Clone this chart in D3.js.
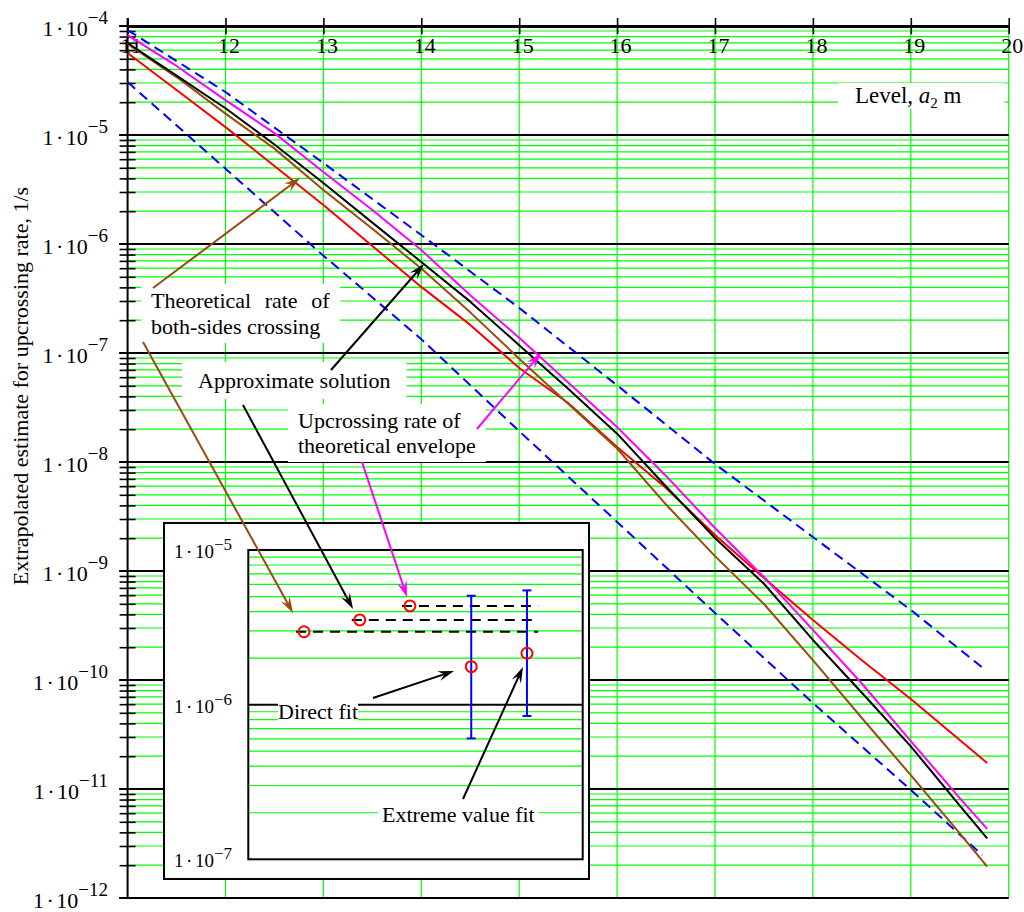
<!DOCTYPE html>
<html>
<head>
<meta charset="utf-8">
<script src="https://cdn.jsdelivr.net/npm/d3@7"></script>
<style>
  body { margin: 0; background: #fff; }
  svg { display: block; }
  text { font-family: "Liberation Serif", "Times New Roman", serif; fill: #000; }
</style>
</head>
<body>
<svg id="chart" width="1024" height="912"></svg>
<script>
// ---- data -------------------------------------------------------------
const levelTicks = [11, 12, 13, 14, 15, 16, 17, 18, 19, 20];
const rateExponents = [-4, -5, -6, -7, -8, -9, -10, -11, -12];

// levels (m) at which the rate curves are sampled
const levels = [11, 11.5, 12, 12.5, 13, 13.5, 14, 14.5, 15, 15.5, 16, 16.5, 17, 17.5, 18, 18.5, 19, 19.5, 19.78];
// extrapolated estimate (red)
const extrapolatedRate = [5.65e-5, 2.59e-5, 1.18e-5, 5.20e-6, 2.28e-6, 9.59e-7, 4.04e-7, 1.81e-7, 7.28e-8, 3.48e-8,
  1.37e-8, 5.77e-9, 2.14e-9, 8.63e-10, 3.55e-10, 1.52e-10, 6.70e-11, 2.82e-11, 1.73e-11];
// theoretical rate of both-sides crossing (brown)
const bothSidesRate = [6.84e-5, 3.40e-5, 1.57e-5, 7.50e-6, 3.13e-6, 1.38e-6, 5.96e-7, 2.36e-7, 8.87e-8, 3.42e-8,
  1.33e-8, 4.07e-9, 1.37e-9, 4.98e-10, 1.52e-10, 4.48e-11, 1.34e-11, 3.92e-12, 1.94e-12];
// approximate solution (black)
const approxRate = [6.98e-5, 3.51e-5, 1.76e-5, 8.18e-6, 3.63e-6, 1.57e-6, 6.84e-7, 2.96e-7, 1.18e-7, 4.71e-8,
  1.82e-8, 5.96e-9, 2.01e-9, 7.64e-10, 2.33e-10, 7.64e-11, 2.46e-11, 7.05e-12, 3.53e-12];
// upcrossing rate of theoretical envelope (magenta)
const envelopeRate = [8.26e-5, 4.30e-5, 2.09e-5, 1.04e-5, 4.58e-6, 2.05e-6, 8.81e-7, 3.38e-7, 1.38e-7, 5.35e-8,
  2.09e-8, 7.45e-9, 2.48e-9, 8.81e-10, 2.88e-10, 9.29e-11, 2.75e-11, 8.26e-12, 4.30e-12];

// confidence band (blue dashed)
const upperLevels = [11, 12, 13, 14, 15, 16, 17, 18, 19, 19.75];
const upperBound = [9.18e-5, 2.48e-5, 5.53e-6, 1.21e-6, 2.59e-7, 5.05e-8, 9.59e-9, 2.05e-9, 4.39e-10, 1.26e-10];
const lowerLevels = [11, 12, 13, 14, 15, 16, 17, 18, 19, 19.73];
const lowerBound = [3.06e-5, 4.91e-6, 7.82e-7, 1.34e-7, 1.92e-8, 2.82e-9, 4.12e-10, 6.15e-11, 9.79e-12, 2.48e-12];

// inset: estimates at a single level
const insetExponents = [-5, -6, -7];
const insetTheoryPos = [1, 2, 2.9];                 // both-sides, approximate, envelope
const insetTheoryRate = [2.96e-6, 3.53e-6, 4.35e-6];
const insetTheoryEnd = 5.2;
const insetFitPos = [4, 5];                         // direct fit, extreme value fit
const insetFitRate = [1.76e-6, 2.15e-6];
const insetFitLow = [6.05e-7, 8.45e-7];
const insetFitHigh = [5.06e-6, 5.48e-6];

// ---- setup ------------------------------------------------------------
const GREEN = "#00ff00", BROWN = "#9a4a0e", MAGENTA = "#ff00ff", RED = "#ff0000", BLUE = "#0000ff";
const svg = d3.select("#chart");

const x = d3.scaleLinear().domain([11, 20]).range([127.6, 1008.7]);
const y = d3.scaleLog().domain([1e-12, 1e-4]).range([898, 26]);

const minorValues = [];
for (let e = -12; e < -4; e++) for (let k = 2; k <= 9; k++) minorValues.push(+(k * Math.pow(10, e)).toPrecision(3));
const decadeValues = rateExponents.map(e => Math.pow(10, e));

const gridLayer = svg.append("g");
const bgLayer = svg.append("g");
const curveLayer = svg.append("g");
const insetLayer = svg.append("g");
const noteLayer = svg.append("g");

// ---- grid -------------------------------------------------------------
gridLayer.selectAll(".hminor").data(minorValues).join("line")
  .attr("x1", x(11)).attr("x2", x(20))
  .attr("y1", d => y(d)).attr("y2", d => y(d))
  .attr("stroke", GREEN).attr("stroke-width", 1.2);
gridLayer.selectAll(".vgrid").data(levelTicks.slice(1)).join("line")
  .attr("x1", d => x(d)).attr("x2", d => x(d))
  .attr("y1", y(1e-4)).attr("y2", y(1e-12))
  .attr("stroke", GREEN).attr("stroke-width", 1.2);
gridLayer.selectAll(".hmajor").data(decadeValues).join("line")
  .attr("x1", x(11) - 8.5).attr("x2", x(20))
  .attr("y1", d => y(d)).attr("y2", d => y(d))
  .attr("stroke", "#000").attr("stroke-width", 2);

// left axis with minor ticks on both sides
const leftOut = gridLayer.append("g").attr("transform", `translate(${x(11)},0)`)
  .call(d3.axisLeft(y).tickValues(minorValues).tickSize(8).tickFormat(""));
const leftIn = gridLayer.append("g").attr("transform", `translate(${x(11)},0)`)
  .call(d3.axisRight(y).tickValues(minorValues).tickSize(8).tickFormat(""));
[leftOut, leftIn].forEach(g => {
  g.select(".domain").remove();
  g.selectAll(".tick line").attr("stroke", "#000").attr("stroke-width", 1.6);
});
gridLayer.append("line").attr("x1", x(11)).attr("x2", x(11)).attr("y1", 18).attr("y2", y(1e-12))
  .attr("stroke", "#000").attr("stroke-width", 2);

// top axis: ticks up and down, labels below
const topUp = gridLayer.append("g").attr("transform", `translate(0,${y(1e-4)})`)
  .call(d3.axisTop(x).tickValues(levelTicks).tickSize(8).tickSizeOuter(0).tickFormat(""));
const topDown = gridLayer.append("g").attr("transform", `translate(0,${y(1e-4)})`)
  .call(d3.axisBottom(x).tickValues(levelTicks).tickSize(8).tickSizeOuter(0).tickPadding(3.5).tickFormat(d3.format("d")));
[topUp, topDown].forEach(g => {
  g.select(".domain").attr("stroke", "#000").attr("stroke-width", 2.4);
  g.selectAll(".tick line").attr("stroke", "#000").attr("stroke-width", 1.6);
});
topDown.selectAll(".tick text")
  .attr("dx", 3).attr("fill", "#000")
  .style("font-family", '"Liberation Serif", serif').style("font-size", "22px");

// y tick labels 1·10^n
function powerLabel(sel, size, supSize, rise) {
  sel.append("tspan").text("1");
  sel.append("tspan").attr("dx", 2.5).text("·");
  sel.append("tspan").attr("dx", 2.5).text("10");
  sel.append("tspan").attr("dy", -rise).style("font-size", supSize + "px").text(d => "\u2212" + Math.abs(d));
}
const yLabels = gridLayer.selectAll(".ylab").data(rateExponents).join("text")
  .attr("x", 108).attr("y", d => y(Math.pow(10, d)) + 10)
  .attr("text-anchor", "end").style("font-size", "22px");
powerLabel(yLabels, 22, 19, 12);

// axis titles
gridLayer.append("text")
  .attr("transform", `translate(28,386) rotate(-90)`)
  .attr("text-anchor", "middle").style("font-size", "22px")
  .text("Extrapolated estimate for upcrossing rate, 1/s");

// ---- curves -----------------------------------------------------------
const line = d3.line().x(d => x(d[0])).y(d => y(d[1]));
const series = (xs, ys) => xs.map((v, i) => [v, ys[i]]);

curveLayer.append("path").attr("d", line(series(upperLevels, upperBound)))
  .attr("fill", "none").attr("stroke", BLUE).attr("stroke-width", 2).attr("stroke-dasharray", "10,6");
curveLayer.append("path").attr("d", line(series(lowerLevels, lowerBound)))
  .attr("fill", "none").attr("stroke", BLUE).attr("stroke-width", 2).attr("stroke-dasharray", "10,6");
[[extrapolatedRate, RED], [bothSidesRate, BROWN], [approxRate, "#000"], [envelopeRate, MAGENTA]].forEach(([vals, c]) => {
  curveLayer.append("path").attr("d", line(series(levels, vals)))
    .attr("fill", "none").attr("stroke", c).attr("stroke-width", 2).attr("stroke-linejoin", "round");
});

// ---- helpers ----------------------------------------------------------
function arrow(g, x1, y1, x2, y2, color) {
  const a = Math.atan2(y2 - y1, x2 - x1), c = Math.cos(a), s = Math.sin(a);
  const L = 16, W = 5, N = 10;
  g.append("line").attr("x1", x1).attr("y1", y1).attr("x2", x2 - N * c).attr("y2", y2 - N * s)
    .attr("stroke", color).attr("stroke-width", 2);
  const pts = [[x2, y2], [x2 - L * c + W * s, y2 - L * s - W * c], [x2 - N * c, y2 - N * s], [x2 - L * c - W * s, y2 - L * s + W * c]];
  g.append("polygon").attr("points", pts.map(p => p.join(",")).join(" ")).attr("fill", color);
}
function label(g, bg, lines, x0, y0, lh, opts = {}) {
  const t = g.append("text").attr("x", x0).attr("y", y0).style("font-size", (opts.size || 22) + "px");
  lines.forEach((l, i) => {
    const ts = t.append("tspan").attr("x", x0).attr("y", y0 + i * lh).text(l);
    if (opts.wordSpacing && opts.wordSpacing[i]) ts.style("word-spacing", opts.wordSpacing[i] + "px");
  });
  const b = t.node().getBBox();
  const px = opts.padX ?? 8, py = opts.padY ?? 3;
  bg.append("rect").attr("x", b.x - px).attr("y", b.y - py)
    .attr("width", b.width + 2 * px).attr("height", b.height + 2 * py).attr("fill", "#fff");
  return t;
}

// level axis title with white backing
{
  const t = noteLayer.append("text").attr("x", 855).attr("y", 103).style("font-size", "23px");
  t.append("tspan").text("Level, ");
  t.append("tspan").style("font-style", "italic").text("a");
  t.append("tspan").attr("dy", 5).style("font-size", "15px").text("2");
  t.append("tspan").attr("dy", -5).text(" m");
  bgLayer.append("rect").attr("x", 838).attr("y", 83).attr("width", 167).attr("height", 26).attr("fill", "#fff");
}

// ---- inset ------------------------------------------------------------
const ix = d3.scaleLinear().domain([0, 6]).range([248.3, 582.7]);
const iy = d3.scaleLog().domain([1e-7, 1e-5]).range([859.3, 550]);
insetLayer.append("rect").attr("x", 164).attr("y", 523).attr("width", 425).attr("height", 356)
  .attr("fill", "#fff").attr("stroke", "#000").attr("stroke-width", 2);
const insetGrid = insetLayer.append("g");
const insetBg = insetLayer.append("g");
const insetMarks = insetLayer.append("g");
const insetMinor = [];
for (let e = -7; e < -5; e++) for (let k = 2; k <= 9; k++) insetMinor.push(+(k * Math.pow(10, e)).toPrecision(3));
insetGrid.selectAll("line.m").data(insetMinor).join("line")
  .attr("x1", ix(0)).attr("x2", ix(6)).attr("y1", d => iy(d)).attr("y2", d => iy(d))
  .attr("stroke", GREEN).attr("stroke-width", 1.2);
insetGrid.append("line").attr("x1", ix(0)).attr("x2", ix(6)).attr("y1", iy(1e-6)).attr("y2", iy(1e-6))
  .attr("stroke", "#000").attr("stroke-width", 2);
insetMarks.append("rect").attr("x", ix(0)).attr("y", iy(1e-5)).attr("width", ix(6) - ix(0)).attr("height", iy(1e-7) - iy(1e-5))
  .attr("fill", "none").attr("stroke", "#000").attr("stroke-width", 2);
const iLabels = insetMarks.selectAll(".ilab").data(insetExponents).join("text")
  .attr("x", 232).attr("y", d => iy(Math.pow(10, d)) + 8).attr("text-anchor", "end").style("font-size", "19px");
powerLabel(iLabels, 19, 17, 8);

// theoretical levels as dashed reference lines
insetTheoryPos.forEach((p, i) => {
  insetMarks.append("line").attr("x1", ix(p) - 8).attr("x2", ix(insetTheoryEnd))
    .attr("y1", iy(insetTheoryRate[i])).attr("y2", iy(insetTheoryRate[i]))
    .attr("stroke", "#000").attr("stroke-width", 2).attr("stroke-dasharray", "10,7");
});
// fitted estimates with error bars
insetFitPos.forEach((p, i) => {
  const cx = ix(p);
  insetMarks.append("line").attr("x1", cx).attr("x2", cx).attr("y1", iy(insetFitLow[i])).attr("y2", iy(insetFitHigh[i]))
    .attr("stroke", BLUE).attr("stroke-width", 2);
  [insetFitLow[i], insetFitHigh[i]].forEach(v => insetMarks.append("line")
    .attr("x1", cx - 4.5).attr("x2", cx + 4.5).attr("y1", iy(v)).attr("y2", iy(v))
    .attr("stroke", BLUE).attr("stroke-width", 2));
});
insetMarks.selectAll("circle.t").data(insetTheoryPos.map((p, i) => [p, insetTheoryRate[i]])
  .concat(insetFitPos.map((p, i) => [p, insetFitRate[i]]))).join("circle")
  .attr("cx", d => ix(d[0])).attr("cy", d => iy(d[1])).attr("r", 5.5)
  .attr("fill", "none").attr("stroke", RED).attr("stroke-width", 2);

label(insetMarks, insetBg, ["Direct fit"], 278, 719, 0, { padX: 0, padY: 2 });
label(insetMarks, insetBg, ["Extreme value fit"], 382, 822, 0, { padX: 4, padY: 2 });
arrow(insetMarks, 373, 698, 454, 671, "#000");
arrow(insetMarks, 463, 799, 523, 667, "#000");

// ---- annotations ------------------------------------------------------
label(noteLayer, bgLayer, ["Theoretical rate of", "both-sides crossing"], 151, 308, 26, { wordSpacing: [8, 0], padX: 10, padY: 4 });
label(noteLayer, bgLayer, ["Approximate solution"], 198, 388, 0, { padX: 16, padY: 6 });
label(noteLayer, bgLayer, ["Upcrossing rate of", "theoretical envelope"], 298, 428, 25, { padX: 10, padY: 4 });

arrow(noteLayer, 153, 288, 300, 178, BROWN);
arrow(noteLayer, 143, 342, 293, 613, BROWN);
arrow(noteLayer, 331, 370, 424, 264, "#000");
arrow(noteLayer, 243, 405, 353, 609, "#000");
arrow(noteLayer, 477, 429, 541, 353, MAGENTA);
arrow(noteLayer, 362, 462, 407, 597, MAGENTA);
</script>
</body>
</html>
